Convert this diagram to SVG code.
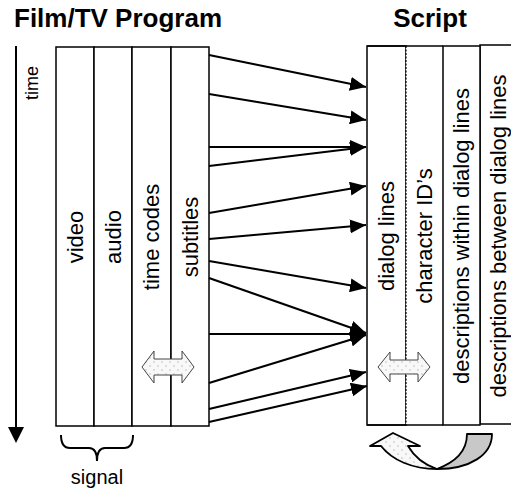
<svg xmlns="http://www.w3.org/2000/svg" width="511" height="492" viewBox="0 0 511 492">
<defs>
<style>
.t{font-family:"Liberation Sans",Arial,sans-serif;fill:#000}
.title{font-size:26px;font-weight:bold}
.lbl{font-size:22px}
.col{fill:#fff;stroke:#000;stroke-width:1.5}
.con{stroke:#000;stroke-width:2.2;fill:none;marker-end:url(#ah)}
.dbl{fill:url(#dots);stroke:#444;stroke-width:1}
</style>
<marker id="ah" viewBox="0 0 16 14" refX="16" refY="7" markerWidth="16" markerHeight="14" markerUnits="userSpaceOnUse" orient="auto">
<path d="M0,0 L16,7 L0,14 Z" fill="#000"/>
</marker>
<marker id="ta" viewBox="0 0 16 16" refX="8" refY="16" markerWidth="16" markerHeight="16" markerUnits="userSpaceOnUse" orient="0">
<path d="M0,0 L16,0 L8,16 Z" fill="#000"/>
</marker>
<pattern id="dots" width="8" height="8" patternUnits="userSpaceOnUse">
<rect width="8" height="8" fill="#f8f8f8"/>
<circle cx="2" cy="2" r="0.8" fill="#bbb"/>
<circle cx="6" cy="6" r="0.8" fill="#bbb"/>
</pattern>
</defs>

<text class="t title" x="14" y="27">Film/TV Program</text>
<text class="t title" x="430" y="27" text-anchor="middle">Script</text>

<g id="time-axis">
<line x1="16" y1="46" x2="16" y2="428" stroke="#000" stroke-width="2"/>
<path d="M8,427 L24,427 L16,443 Z" fill="#000"/>
<text class="t" font-size="18" transform="translate(32,83) rotate(-90)" text-anchor="middle" dominant-baseline="central">time</text>
</g>

<g id="film-tv-program">
<g id="video"><rect class="col" x="56" y="47" width="38" height="379"/><text class="t lbl" transform="translate(75,237) rotate(-90)" text-anchor="middle" dominant-baseline="central">video</text></g>
<g id="audio"><rect class="col" x="94" y="47" width="38" height="379"/><text class="t lbl" transform="translate(113,237) rotate(-90)" text-anchor="middle" dominant-baseline="central">audio</text></g>
<g id="time-codes"><rect class="col" x="132" y="47" width="39" height="379"/><text class="t lbl" transform="translate(151,237) rotate(-90)" text-anchor="middle" dominant-baseline="central">time codes</text></g>
<g id="subtitles"><rect class="col" x="171" y="47" width="38" height="379"/><text class="t lbl" transform="translate(190,237) rotate(-90)" text-anchor="middle" dominant-baseline="central">subtitles</text></g>
</g>

<g id="script">
<g id="descriptions-between"><rect class="col" x="480" y="45" width="40" height="379"/><text class="t lbl" transform="translate(498,236) rotate(-90)" text-anchor="middle" dominant-baseline="central">descriptions between dialog lines</text></g>
<g id="dialog-lines"><rect class="col" x="367" y="46" width="39" height="379"/><text class="t lbl" transform="translate(386,236) rotate(-90)" text-anchor="middle" dominant-baseline="central">dialog lines</text></g>
<g id="character-ids"><rect x="406" y="46" width="37" height="379" fill="#fff" stroke="none"/><line x1="367" y1="46" x2="443" y2="46" stroke="#000" stroke-width="1.5"/><line x1="367" y1="425" x2="443" y2="425" stroke="#000" stroke-width="1.5"/><line x1="406" y1="46" x2="406" y2="425" stroke="#000" stroke-width="1.2" stroke-dasharray="2,1.5"/><text class="t lbl" transform="translate(424,236) rotate(-90)" text-anchor="middle" dominant-baseline="central">character ID’s</text></g>
<g id="descriptions-within"><rect class="col" x="443" y="46" width="37" height="379"/><text class="t lbl" transform="translate(461,236) rotate(-90)" text-anchor="middle" dominant-baseline="central">descriptions within dialog lines</text></g>
</g>

<g id="connectors">
<line class="con" x1="209" y1="55" x2="366" y2="87"/>
<line class="con" x1="209" y1="94" x2="366" y2="120"/>
<line class="con" x1="209" y1="147" x2="366" y2="147"/>
<line class="con" x1="209" y1="166" x2="366" y2="147"/>
<line class="con" x1="209" y1="213" x2="366" y2="186"/>
<line class="con" x1="209" y1="239" x2="366" y2="225"/>
<line class="con" x1="209" y1="261" x2="366" y2="288"/>
<line class="con" x1="209" y1="278" x2="366" y2="333"/>
<line class="con" x1="209" y1="334" x2="366" y2="334"/>
<line class="con" x1="209" y1="383" x2="366" y2="335"/>
<line class="con" x1="209" y1="409" x2="366" y2="372"/>
<line class="con" x1="209" y1="422" x2="367" y2="386"/>
</g>

<g id="sync-arrow-left">
<path class="dbl" d="M142,367 L154,351 L154,359 L182,359 L182,351 L194,367 L182,383 L182,375 L154,375 L154,383 Z"/>
</g>
<g id="sync-arrow-right">
<path class="dbl" d="M378,367 L390,352 L390,360 L418,360 L418,352 L430,367 L418,382 L418,374 L390,374 L390,382 Z"/>
</g>

<g id="signal-brace">
<path d="M61,435 Q61,448 70,448 L89,448 Q97,448 97,461 Q97,448 105,448 L124,448 Q133,448 133,435" fill="none" stroke="#000" stroke-width="2"/>
<text class="t" font-size="20" x="97" y="484" text-anchor="middle">signal</text>
</g>

<g id="turn-arrow">
<path d="M467,434 L492,434 C492,455 470,469 437,469 C455,462 467,452 467,434 Z" fill="#c8c8c8" stroke="#000" stroke-width="1.8" stroke-linejoin="round"/>
<path d="M437,469 C412,469 392,460 381,446 L370,446 L393,433 L420,446 L408,446 C415,458 425,465 437,469 Z" fill="url(#dots)" stroke="#000" stroke-width="1.8" stroke-linejoin="round"/>
</g>
</svg>
